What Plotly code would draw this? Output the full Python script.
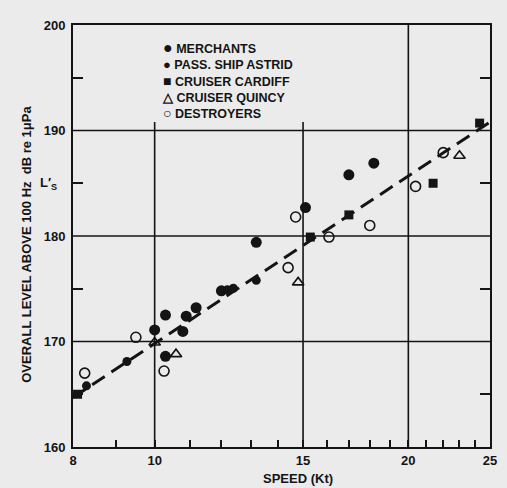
import math
import plotly.graph_objects as go

# ---- data ----
merch_speed = [10.0, 10.3, 10.8, 10.9, 11.2, 12.0, 10.3, 13.2, 15.1, 17.0, 18.2]
merch_level = [171.1, 172.5, 170.95, 172.4, 173.2, 174.8, 168.6, 179.4, 182.7, 185.8, 186.9]

astrid_speed = [8.3, 9.27, 12.2, 12.4, 13.2]
astrid_level = [165.8, 168.1, 174.9, 175.05, 175.8]

cardiff_speed = [8.1, 15.3, 17.0, 21.4, 24.3]
cardiff_level = [165.0, 179.9, 182.0, 185.0, 190.7]

quincy_speed = [10.0, 10.6, 14.8, 23.0]
quincy_level = [169.9, 168.8, 175.6, 187.6]

destr_speed = [8.26, 9.5, 10.26, 14.4, 14.7, 16.1, 18.0, 20.4, 22.0]
destr_level = [167.0, 170.4, 167.2, 177.0, 181.8, 179.9, 181.0, 184.7, 187.9]

fit_speed = [8, 25]
fit_level = [164.7, 190.8]

series_names = ["MERCHANTS", "PASS. SHIP ASTRID", "CRUISER CARDIFF", "CRUISER QUINCY", "DESTROYERS"]
series_glyphs = ["●", "●", "■", "△", "○"]
glyph_sizes = [16, 13, 14, 13, 14]

x_ticks = [8, 10, 15, 20, 25]
x_minor = [9, 11, 12, 13, 14, 16, 17, 18, 19, 21, 22, 23, 24]
y_ticks = [160, 170, 180, 190, 200]
y_minor = [165, 175, 185, 195]

BG = "#ebebeb"
INK = "#141414"
FONT = "Liberation Sans"

fig = go.Figure()

# grid lines (the 10 and 15 lines stop just above 190, under the legend)
for xv in x_ticks[1:-1]:
    top = 190.8 if xv < 20 else y_ticks[-1]
    fig.add_shape(type="line", x0=xv, x1=xv, y0=y_ticks[0], y1=top,
                  xref="x", yref="y", line=dict(color=INK, width=1.6), layer="below")
for yv in y_ticks[1:-1]:
    fig.add_shape(type="line", x0=x_ticks[0], x1=x_ticks[-1], y0=yv, y1=yv,
                  xref="x", yref="y", line=dict(color=INK, width=1.6), layer="below")

fig.add_trace(go.Scatter(x=fit_speed, y=fit_level, mode="lines",
                         line=dict(color=INK, width=3, dash="15px,8px"),
                         showlegend=False, hoverinfo="skip"))

fig.add_trace(go.Scatter(x=merch_speed, y=merch_level, mode="markers", name=series_names[0],
                         marker=dict(symbol="circle", size=11, color=INK)))
fig.add_trace(go.Scatter(x=astrid_speed, y=astrid_level, mode="markers", name=series_names[1],
                         marker=dict(symbol="circle", size=9, color=INK)))
fig.add_trace(go.Scatter(x=cardiff_speed, y=cardiff_level, mode="markers", name=series_names[2],
                         marker=dict(symbol="square", size=9, color=INK)))
fig.add_trace(go.Scatter(x=quincy_speed, y=quincy_level, mode="markers", name=series_names[3],
                         marker=dict(symbol="triangle-up-open", size=10, color=INK,
                                     line=dict(width=1.6, color=INK))))
fig.add_trace(go.Scatter(x=destr_speed, y=destr_level, mode="markers", name=series_names[4],
                         marker=dict(symbol="circle-open", size=10, color=INK,
                                     line=dict(width=1.6, color=INK))))

fig.update_layout(
    width=507, height=488,
    margin=dict(l=73, r=10, t=25, b=41),
    paper_bgcolor=BG, plot_bgcolor=BG,
    font=dict(family=FONT, color=INK, size=13),
    showlegend=False,
)

fig.update_xaxes(
    type="log", range=[math.log10(x_ticks[0]), math.log10(x_ticks[-1])],
    tickvals=x_ticks, ticktext=[str(v) for v in x_ticks],
    ticks="inside", ticklen=7, tickwidth=1.6, tickcolor=INK,
    minor=dict(tickvals=x_minor, ticks="inside", ticklen=7, tickwidth=1.6, tickcolor=INK, showgrid=False),
    showgrid=False, zeroline=False,
    showline=True, linewidth=2, linecolor=INK, mirror=True,
    tickfont=dict(family=FONT, size=13, color=INK, weight="bold"),
)
fig.update_yaxes(
    range=[y_ticks[0], y_ticks[-1]],
    tickvals=y_ticks, ticktext=[str(v) for v in y_ticks],
    ticks="",
    minor=dict(tickvals=y_minor, ticks="inside", ticklen=10, tickwidth=1.6, tickcolor=INK, showgrid=False),
    showgrid=False, zeroline=False,
    showline=True, linewidth=2, linecolor=INK, mirror="allticks",
    tickfont=dict(family=FONT, size=13, color=INK, weight="bold"),
    ticklabelstandoff=3,
)

# legend block (glyph + name per series)
legend_lines = [f"<span style='font-size:{s}px'>{g}</span> {n}"
                for g, n, s in zip(series_glyphs, series_names, glyph_sizes)]
fig.add_annotation(text="<br>".join(legend_lines), align="left",
                   xref="paper", yref="paper", x=(161 - 73) / 424, y=(447 - 37) / 422,
                   xanchor="left", yanchor="top", showarrow=False,
                   font=dict(family=FONT, size=12.5, color=INK, weight="bold"))

fig.add_annotation(text="OVERALL LEVEL ABOVE 100 Hz  dB re 1μPa", textangle=-90,
                   xref="paper", yref="paper", x=-(73 - 25) / 424, y=(447 - 244) / 422,
                   xanchor="center", yanchor="middle", showarrow=False,
                   font=dict(family=FONT, size=13, color=INK, weight="bold"))
fig.add_annotation(text="L′<sub>S</sub>", xref="paper", yref="paper",
                   x=-(73 - 48) / 424, y=(447 - 183) / 422, xanchor="center", yanchor="middle",
                   showarrow=False, font=dict(family=FONT, size=13, color=INK, weight="bold"))
fig.add_annotation(text="SPEED (Kt)", xref="paper", yref="paper",
                   x=(302 - 73) / 424, y=-(478 - 447) / 422, xanchor="center", yanchor="middle",
                   showarrow=False, font=dict(family=FONT, size=13, color=INK, weight="bold"))

fig.write_html("out.html")
